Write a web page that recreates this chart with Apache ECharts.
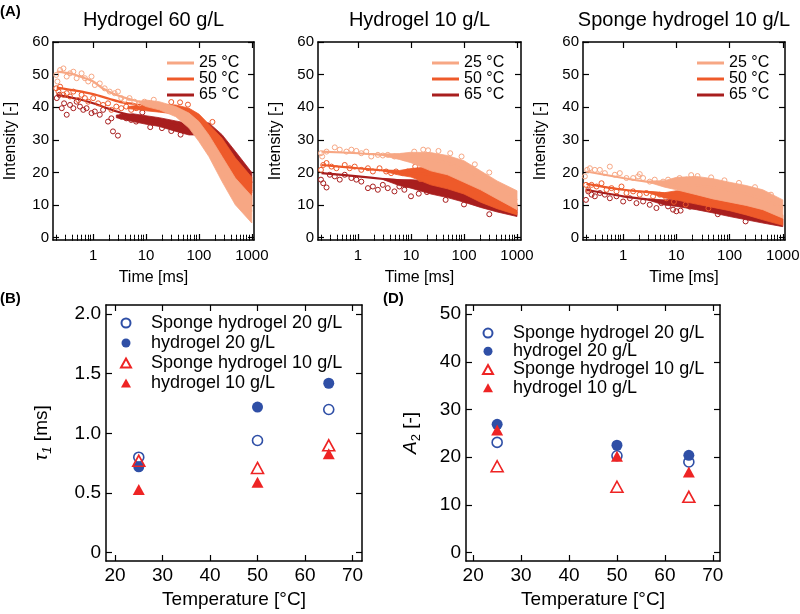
<!DOCTYPE html>
<html><head><meta charset="utf-8">
<script src="https://cdn.jsdelivr.net/npm/echarts@6/dist/echarts.min.js"></script>
<style>html,body{margin:0;padding:0;background:#fff}#c{width:800px;height:614px}</style>
</head><body><div id="c"></div>
<script>
// ---------- shared ----------
const temps = ['25 °C', '50 °C', '65 °C'];
const tempColors = ['#F7A784', '#EE5A2A', '#A81E1E'];
const timeTickValues = [1, 10, 100, 1000];
const timeTickLabels = ['1', '10', '100', '1000'];
const timeMinorTicks = [0.2,0.3,0.4,0.5,0.6,0.7,0.8,0.9,2,3,4,5,6,7,8,9,20,30,40,50,60,70,80,90,200,300,400,500,600,700,800,900];
const intensityTicks = [0, 10, 20, 30, 40, 50, 60];

// ---------- Hydrogel 60 g/L ----------
const h60Fit25 = [[0.205,50.9],[0.4,50.2],[0.7,48.9],[1,47.9],[1.5,45.8],[2.7,43.8],[5.6,42.2],[10,41.2],[17.8,40.5],[36.5,38.7],[64.9,35.9],[100,32.6],[154,28.3],[274,21.1],[487,14.2],[1000,8.0]];
const h60Fit50 = [[0.205,46.0],[0.5,45.0],[1,44.0],[2,42.6],[3.5,41.5],[6,41.0],[10,40.3],[17.8,39.8],[36.5,39.3],[64.9,37.9],[100,35.6],[154,32.4],[274,26.9],[487,20.3],[1000,14.2]];
const h60Fit65 = [[0.205,43.8],[0.5,42.6],[1,41.2],[2,39.5],[3.5,38.2],[6,37.3],[10,36.4],[17.8,35.6],[36.5,34.4],[64.9,33.4],[100,33.4],[154,33.0],[274,29.5],[487,24.2],[1000,16.8]];
const h60Pts25 = [[0.20,49.9],[0.211,47.9],[0.237,51.4],[0.274,51.9],[0.316,49.4],[0.365,50.4],[0.422,50.9],[0.487,48.9],[0.604,50.4],[0.698,48.9],[0.806,47.9],[0.931,49.4],[1.075,46.8],[1.334,47.3],[1.65,45.8],[2.05,44.8],[2.55,44.3],[2.94,44.8],[3.4,42.8],[3.92,42.2],[4.87,42.8],[6.04,41.7],[7.5,41.2],[9.31,41.7],[11.5,41.2],[14,42.3]];
const h60Pts50 = [[0.20,45.8],[0.221,44.8],[0.237,46.3],[0.274,43.8],[0.316,44.3],[0.365,43.3],[0.422,44.8],[0.523,42.2],[0.604,43.8],[0.698,42.8],[0.806,41.7],[1,42.8],[1.24,41.2],[1.54,40.7],[1.91,41.2],[2.21,39.2],[2.74,40.2],[3.4,39.7],[4.22,40.2],[5.23,39.2],[6.49,39.7],[30,41.6],[44,41.5],[62,40.8],[180,35.5]];
const h60Pts65 = [[0.205,42.8],[0.23,43.8],[0.255,39.7],[0.282,41.2],[0.316,37.7],[0.365,40.7],[0.422,39.7],[0.487,41.7],[0.562,40.2],[0.65,39.2],[0.75,39.7],[0.931,38.2],[1.075,38.7],[1.334,37.7],[1.54,39.2],[1.91,35.6],[2.21,36.6],[2.37,32.6],[2.94,31.3],[3.4,37.1],[4.22,36.6],[5.23,36.1],[6.49,35.6],[8.5,38.4],[12,33.9],[20,33.6],[30,32.7],[45,31.6]];
const h60BandT25 = [7.5, 10, 17.8, 36.5, 64.9, 100, 154, 274, 487, 1000];
const h60BandLo25 = [41.2, 40.2, 39.2, 37.1, 33.6, 29.5, 24.9, 17.2, 10.1, 4.5];
const h60BandHi25 = [41.8, 42.2, 41.7, 40.2, 38.2, 35.6, 31.5, 24.9, 18.3, 12.7];
const h60BandT50 = [4.53, 10, 17.8, 36.5, 64.9, 100, 154, 274, 487, 1000];
const h60BandLo50 = [39.6, 38.9, 38.5, 37.9, 36.1, 33.4, 30.0, 23.2, 15.7, 9.6];
const h60BandHi50 = [40.2, 40.9, 40.9, 40.7, 39.7, 37.9, 34.8, 30.5, 24.5, 18.5];
const h60BandT65 = [2.74, 5.62, 10, 17.8, 36.5, 64.9, 100, 154, 274, 487, 1000];
const h60BandLo65 = [36.8, 35.6, 34.8, 34.1, 32.6, 31.5, 31.5, 31.0, 27.0, 21.5, 13.7];
const h60BandHi65 = [37.6, 38.0, 37.4, 36.8, 35.8, 35.0, 35.3, 35.2, 31.6, 26.5, 20.0];

// ---------- Hydrogel 10 g/L ----------
const h10Fit25 = [[0.205,26.4],[1,25.9],[3,25.4],[10,24.9],[23.7,23.9],[48.7,22.9],[100,20.8],[205,18.3],[422,15.7],[1000,11.5]];
const h10Fit50 = [[0.205,22.3],[1,21.3],[3,20.6],[10,19.8],[23.7,19.3],[48.7,18.3],[100,16.2],[205,13.5],[422,11.0],[1000,8.5]];
const h10Fit65 = [[0.205,19.8],[1,18.8],[3,18.0],[10,17.2],[23.7,16.2],[48.7,15.0],[100,13.5],[205,11.5],[422,9.5],[1000,7.5]];
const h10Pts25 = [[0.20,25.9],[0.211,24.9],[0.255,26.4],[0.365,27.7],[0.453,27.0],[0.604,26.4],[0.75,27.0],[0.931,26.6],[1.155,25.9],[1.43,26.4],[1.78,24.9],[2.37,25.4],[2.94,25.2],[3.65,25.4],[4.87,24.9],[6.49,24.9],[7.5,24.4],[10,24.9],[11.5,26.4],[13.3,24.9],[17,27.0],[21,26.8],[33,26.6],[55,25.9],[90,24.9],[160,22.5],[300,20.0]];
const h10Pts50 = [[0.20,20.8],[0.221,22.3],[0.255,22.9],[0.316,21.8],[0.392,21.3],[0.562,22.3],[0.698,21.3],[0.866,21.8],[1.155,20.8],[1.54,21.3],[1.91,20.3],[2.55,21.3],[3.4,20.3],[4.22,19.8],[5.23,20.3],[6.98,19.8],[8.66,20.3],[12,21.8],[30,22.5],[15,18.0]];
const h10Pts65 = [[0.20,17.8],[0.221,16.7],[0.255,15.4],[0.294,19.3],[0.365,18.8],[0.453,17.8],[0.562,19.3],[0.75,18.3],[0.931,17.8],[1.155,17.2],[1.54,15.2],[1.91,15.7],[2.37,14.7],[2.94,16.2],[3.65,15.2],[4.87,14.2],[6.04,15.7],[7.5,14.7],[8.06,16.2],[10,12.7],[14,13.5],[20,14.0],[45,11.6],[100,10.2],[300,7.2]];
const h10BandT = [3, 6, 10, 23.7, 48.7, 100, 205, 422, 1000];
const h10BandLo25 = [25.1, 24.0, 23.0, 20.5, 19.3, 17.0, 14.7, 11.9, 8.6];
const h10BandHi25 = [25.7, 25.8, 26.2, 26.1, 25.2, 23.6, 20.5, 17.4, 14.4];
const h10BandLo50 = [20.4, 19.2, 18.6, 16.2, 15.0, 13.4, 10.9, 8.9, 7.0];
const h10BandHi50 = [20.8, 20.6, 21.2, 21.8, 21.0, 19.1, 16.2, 13.2, 10.6];
const h10BandLo65 = [17.8, 16.0, 15.2, 13.4, 12.3, 10.9, 9.3, 7.9, 6.5];
const h10BandHi65 = [18.2, 17.8, 17.8, 17.4, 16.4, 15.0, 13.2, 11.1, 9.3];

// ---------- Sponge hydrogel 10 g/L ----------
const s10Fit25 = [[0.205,20.3],[1,18.3],[2.74,17.2],[10,16.2],[23.7,16.0],[48.7,15.4],[100,14.5],[205,13.3],[422,11.8],[1000,9.0]];
const s10Fit50 = [[0.205,16.5],[1,14.7],[3,14.0],[10,13.2],[23.7,12.5],[48.7,11.4],[100,10.2],[205,8.7],[422,7.1],[1000,5.3]];
const s10Fit65 = [[0.205,14.7],[1,12.7],[3,11.7],[10,10.6],[23.7,9.9],[48.7,9.1],[100,8.1],[205,7.0],[422,6.0],[1000,4.5]];
const s10Pts25 = [[0.191,18.8],[0.211,20.8],[0.237,21.3],[0.294,20.8],[0.365,20.8],[0.453,19.8],[0.562,21.8],[0.698,19.3],[0.866,19.8],[1.155,18.3],[1.54,18.3],[1.91,18.8],[2.05,19.5],[2.37,18.3],[3.16,17.2],[3.92,17.8],[5.62,17.2],[6.98,17.8],[8.66,17.2],[11.5,18.3],[15.4,17.8],[19,19.2],[25,18.9],[45,18.5],[80,17.6],[150,16.8],[300,15.5],[600,13.2]];
const s10Pts50 = [[0.20,16.2],[0.221,14.7],[0.255,16.2],[0.316,15.7],[0.392,16.7],[0.487,14.7],[0.604,15.2],[0.75,14.2],[0.931,15.7],[1.155,13.7],[1.54,14.2],[2.05,13.2],[2.74,13.7],[3.65,12.7],[4.87,13.2],[6.49,12.1],[9,11.0],[15,10.2],[40,9.0]];
const s10Pts65 = [[0.20,11.6],[0.221,14.2],[0.255,13.2],[0.294,12.7],[0.365,13.7],[0.453,13.2],[0.562,12.1],[0.75,12.7],[1,11.1],[1.334,12.1],[1.78,10.6],[2.37,11.1],[3.16,10.1],[4.22,9.1],[5.23,10.6],[6.98,9.6],[8.66,8.6],[10,8.1],[12,8.3],[18,9.5],[60,7.2],[200,5.0]];
const s10BandT = [3, 6, 10, 23.7, 48.7, 100, 205, 422, 1000];
const s10BandLo25 = [17.0, 15.5, 14.7, 13.2, 11.9, 10.9, 9.9, 8.6, 6.0];
const s10BandHi25 = [17.4, 17.5, 18.5, 18.8, 18.1, 17.0, 16.0, 14.7, 11.6];
const s10BandLo50 = [13.8, 12.2, 11.6, 10.3, 9.3, 8.3, 7.0, 5.5, 3.8];
const s10BandHi50 = [14.2, 13.8, 14.4, 14.4, 13.2, 12.1, 10.6, 9.1, 7.0];
const s10BandLo65 = [11.5, 10.0, 9.6, 8.6, 7.6, 6.5, 5.5, 4.5, 3.4];
const s10BandHi65 = [11.9, 11.6, 11.9, 11.3, 10.6, 9.6, 8.6, 7.6, 5.8];

// ---------- (B) and (D) ----------
const temperature = [25, 50, 65];
const tempTicks = [20, 30, 40, 50, 60, 70];
const tauTickValues = [0, 0.5, 1, 1.5, 2];
const tauTickLabels = ['0', '0.5', '1.0', '1.5', '2.0'];
const a2Ticks = [0, 10, 20, 30, 40, 50];
const sampleNames = ['Sponge hydrogel 20 g/L', 'hydrogel 20 g/L', 'Sponge hydrogel 10 g/L', 'hydrogel 10 g/L'];
const tauSponge20 = [0.80, 0.94, 1.20];
const tauHydro20 = [0.72, 1.22, 1.42];
const tauSponge10 = [0.77, 0.71, 0.90];
const tauHydro10 = [0.53, 0.59, 0.83];
const a2Sponge20 = [23.1, 20.3, 19.0];
const a2Hydro20 = [26.9, 22.5, 20.4];
const a2Sponge10 = [18.1, 13.8, 11.7];
const a2Hydro10 = [25.7, 20.2, 16.9];

// ---------- build ----------
const FONT = 'Liberation Sans';
const BLUE = '#2F4FA6', RED = '#EE2424';
const frameLine = {show: true, onZero: false, lineStyle: {color: '#000', width: 1.5}};

const topGrids = [
  {left: 53, top: 42, width: 201, height: 198, xmin: 0.174, xmax: 1100, legendLeft: 167},
  {left: 318, top: 42, width: 203, height: 198, xmin: 0.176, xmax: 1190, legendLeft: 432},
  {left: 583, top: 42, width: 202, height: 198, xmin: 0.176, xmax: 1100, legendLeft: 697}
];
const panels = [
  {fits: [h60Fit25, h60Fit50, h60Fit65], pts: [h60Pts25, h60Pts50, h60Pts65],
   bandT: [h60BandT25, h60BandT50, h60BandT65], lo: [h60BandLo25, h60BandLo50, h60BandLo65], hi: [h60BandHi25, h60BandHi50, h60BandHi65]},
  {fits: [h10Fit25, h10Fit50, h10Fit65], pts: [h10Pts25, h10Pts50, h10Pts65],
   bandT: [h10BandT, h10BandT, h10BandT], lo: [h10BandLo25, h10BandLo50, h10BandLo65], hi: [h10BandHi25, h10BandHi50, h10BandHi65]},
  {fits: [s10Fit25, s10Fit50, s10Fit65], pts: [s10Pts25, s10Pts50, s10Pts65],
   bandT: [s10BandT, s10BandT, s10BandT], lo: [s10BandLo25, s10BandLo50, s10BandLo65], hi: [s10BandHi25, s10BandHi50, s10BandHi65]}
];

const grid = [], xAxis = [], yAxis = [], series = [], legend = [];

function timeLabel(v) {
  const i = timeTickValues.findIndex(t => Math.abs(t - v) < 1e-6 * t);
  return i >= 0 ? timeTickLabels[i] : '';
}

// band polygon between lo and hi, drawn once per series through the axes' coord()
function bandRenderer(color) {
  return function (params, api) {
    if (params.dataIndexInside !== 0) return null;
    const n = params.dataInsideLength;
    const upper = [], lower = [];
    for (let j = 0; j < n; j++) {
      const t = api.value(0, j);
      upper.push(api.coord([t, api.value(2, j)]));
      lower.push(api.coord([t, api.value(1, j)]));
    }
    return {type: 'polygon', shape: {points: upper.concat(lower.reverse())},
      style: {fill: color, stroke: color, lineWidth: 0.8}};
  };
}

topGrids.forEach((g, gi) => {
  grid.push({left: g.left, top: g.top, width: g.width, height: g.height, containLabel: false, outerBoundsMode: 'none'});
  const base = {type: 'log', gridIndex: gi, min: g.xmin, max: g.xmax, splitLine: {show: false}};
  xAxis.push(Object.assign({}, base, {position: 'bottom', axisLine: frameLine,
    axisTick: {show: true, inside: true, length: 6, customValues: timeTickValues, lineStyle: {color: '#000', width: 1.2}},
    axisLabel: {show: true, customValues: timeTickValues, formatter: timeLabel, margin: 8, fontSize: 15, fontFamily: FONT, color: '#000'},
    name: 'Time [ms]', nameLocation: 'middle', nameGap: 30, nameTextStyle: {fontSize: 16, fontFamily: FONT, color: '#000'}}));
  xAxis.push(Object.assign({}, base, {position: 'bottom', axisLine: {show: false},
    axisTick: {show: true, inside: true, length: 3, customValues: timeMinorTicks, lineStyle: {color: '#000', width: 1}},
    axisLabel: {show: false}}));
  xAxis.push(Object.assign({}, base, {position: 'top', axisLine: frameLine,
    axisTick: {show: true, inside: true, length: 6, customValues: timeTickValues, lineStyle: {color: '#000', width: 1.2}},
    axisLabel: {show: false}}));
  xAxis.push(Object.assign({}, base, {position: 'top', axisLine: {show: false},
    axisTick: {show: true, inside: true, length: 3, customValues: timeMinorTicks, lineStyle: {color: '#000', width: 1}},
    axisLabel: {show: false}}));
  const ybase = {type: 'value', gridIndex: gi, min: -0.7, max: 60, splitLine: {show: false}, axisLine: frameLine};
  yAxis.push(Object.assign({}, ybase, {position: 'left',
    axisTick: {show: true, inside: true, length: 6, customValues: intensityTicks, lineStyle: {color: '#000', width: 1.2}},
    axisLabel: {show: true, customValues: intensityTicks, margin: 4, fontSize: 15, fontFamily: FONT, color: '#000'},
    name: 'Intensity [-]', nameLocation: 'middle', nameGap: 34, nameRotate: 90, nameTextStyle: {fontSize: 16, fontFamily: FONT, color: '#000'}}));
  yAxis.push(Object.assign({}, ybase, {position: 'right',
    axisTick: {show: true, inside: true, length: 6, customValues: intensityTicks, lineStyle: {color: '#000', width: 1.2}},
    axisLabel: {show: false}}));

  const p = panels[gi];
  const xi = gi * 4, yi = gi * 2;
  [2, 1, 0].forEach((k, m) => {
    const c = tempColors[k];
    const t = p.bandT[k], lo = p.lo[k], hi = p.hi[k];
    const z0 = 2 + m * 3;
    series.push({type: 'custom', xAxisIndex: xi, yAxisIndex: yi, silent: true, clip: true, z: z0,
      encode: {x: 0, y: [1, 2]}, renderItem: bandRenderer(c),
      data: t.map((v, i) => [v, lo[i], hi[i]])});
    series.push({type: 'scatter', xAxisIndex: xi, yAxisIndex: yi, symbol: 'circle', symbolSize: 5, silent: true, z: z0 + 1,
      itemStyle: {color: 'rgba(255,255,255,0)', borderColor: c, borderWidth: 1, opacity: 1}, data: p.pts[k]});
    series.push({type: 'line', name: temps[k], xAxisIndex: xi, yAxisIndex: yi, symbol: 'none', smooth: 0.3, z: z0 + 2,
      lineStyle: {color: c, width: 2.2}, itemStyle: {color: c}, data: p.fits[k]});
  });
  legend.push({orient: 'vertical', left: g.legendLeft, top: 55, padding: 0, itemGap: 0, itemWidth: 27, itemHeight: 3,
    icon: 'rect', selectedMode: false, data: temps, z: 20,
    textStyle: {fontSize: 16, lineHeight: 16, fontFamily: FONT, color: '#000'}});
});

// bottom panels
const botGrids = [
  {left: 106, top: 305, width: 256, height: 256, xmin: 18.1, xmax: 72.0, ymin: -0.07, ymax: 2.076, ticks: tauTickValues,
   name: '{i|τ}{si|1}{n| [ms]}', nameGap: 52, legendLeft: 120, legendTop: 313, legendLH: 20,
   data: [tauSponge20, tauHydro20, tauSponge10, tauHydro10]},
  {left: 466, top: 305, width: 254, height: 256, xmin: 18.5, xmax: 71.5, ymin: -1.76, ymax: 51.9, ticks: a2Ticks,
   name: '{i|A}{s|2}{n| [-]}', nameGap: 43, legendLeft: 482, legendTop: 324, legendLH: 18.2,
   data: [a2Sponge20, a2Hydro20, a2Sponge10, a2Hydro10]}
];
const markerStyles = [
  {symbol: 'circle', symbolSize: 10, itemStyle: {color: 'rgba(255,255,255,0)', borderColor: BLUE, borderWidth: 1.6, opacity: 1}},
  {symbol: 'circle', symbolSize: 11, itemStyle: {color: BLUE, opacity: 1}},
  {symbol: 'triangle', symbolSize: [12, 11], itemStyle: {color: 'rgba(255,255,255,0)', borderColor: RED, borderWidth: 1.6, opacity: 1}},
  {symbol: 'triangle', symbolSize: [12, 11], itemStyle: {color: RED, opacity: 1}}
];
const nameRich = {
  i: {fontStyle: 'italic', fontSize: 19, fontFamily: FONT, lineHeight: 24, color: '#000'},
  si: {fontStyle: 'italic', fontSize: 13, fontFamily: FONT, lineHeight: 13, verticalAlign: 'bottom', color: '#000'},
  s: {fontSize: 13, fontFamily: FONT, lineHeight: 13, verticalAlign: 'bottom', color: '#000'},
  n: {fontSize: 19, fontFamily: FONT, lineHeight: 24, color: '#000'}
};
botGrids.forEach((g, bi) => {
  const gi = 3 + bi;
  grid.push({left: g.left, top: g.top, width: g.width, height: g.height, containLabel: false, outerBoundsMode: 'none'});
  const xbase = {type: 'value', gridIndex: gi, min: g.xmin, max: g.xmax, splitLine: {show: false}, axisLine: frameLine};
  xAxis.push(Object.assign({}, xbase, {position: 'bottom',
    axisTick: {show: true, inside: true, length: 6, customValues: tempTicks, lineStyle: {color: '#000', width: 1.2}},
    axisLabel: {show: true, customValues: tempTicks, margin: 5, fontSize: 19, fontFamily: FONT, color: '#000'},
    name: 'Temperature [°C]', nameLocation: 'middle', nameGap: 29, nameTextStyle: {fontSize: 19, fontFamily: FONT, color: '#000'}}));
  xAxis.push(Object.assign({}, xbase, {position: 'top',
    axisTick: {show: true, inside: true, length: 6, customValues: tempTicks, lineStyle: {color: '#000', width: 1.2}},
    axisLabel: {show: false}}));
  const ybase = {type: 'value', gridIndex: gi, min: g.ymin, max: g.ymax, splitLine: {show: false}, axisLine: frameLine};
  yAxis.push(Object.assign({}, ybase, {position: 'left',
    axisTick: {show: true, inside: true, length: 6, customValues: g.ticks, lineStyle: {color: '#000', width: 1.2}},
    axisLabel: {show: true, customValues: g.ticks, margin: 5, fontSize: 19, fontFamily: FONT, color: '#000',
      formatter: v => {
        if (bi === 0) { const i = tauTickValues.findIndex(t => Math.abs(t - v) < 1e-9); return i >= 0 ? tauTickLabels[i] : ''; }
        return String(v);
      }},
    name: g.name, nameLocation: 'middle', nameGap: g.nameGap, nameRotate: 90,
    nameTextStyle: {fontSize: 19, fontFamily: FONT, color: '#000', rich: nameRich}}));
  yAxis.push(Object.assign({}, ybase, {position: 'right',
    axisTick: {show: true, inside: true, length: 6, customValues: g.ticks, lineStyle: {color: '#000', width: 1.2}},
    axisLabel: {show: false}}));
  const xi = 12 + bi * 2, yi = 6 + bi * 2;
  g.data.forEach((vals, k) => {
    series.push(Object.assign({type: 'scatter', name: sampleNames[k], xAxisIndex: xi, yAxisIndex: yi, z: 3 + k,
      data: temperature.map((t, i) => [t, vals[i]])}, markerStyles[k]));
  });
  legend.push({orient: 'vertical', left: g.legendLeft, top: g.legendTop, padding: 0, itemGap: 0, itemWidth: 10, itemHeight: 9,
    selectedMode: false, data: sampleNames,
    textStyle: {fontSize: 18, lineHeight: g.legendLH, fontFamily: FONT, color: '#000', padding: [0, 0, 0, 15]}});
});

const txt = (s, x, y, size, weight, align) => ({type: 'text', x: x, y: y, silent: true,
  style: {text: s, fontSize: size, fontWeight: weight, fontFamily: FONT, fill: '#000', align: align, verticalAlign: 'middle'}});

const chart = echarts.init(document.getElementById('c'), null, {renderer: 'canvas'});
chart.setOption({
  animation: false,
  backgroundColor: '#fff',
  grid: grid, xAxis: xAxis, yAxis: yAxis, series: series, legend: legend,
  graphic: [
    txt('(A)', 0, 12, 15, 'bold', 'left'),
    txt('(B)', 0, 299, 15, 'bold', 'left'),
    txt('(D)', 383, 299, 15, 'bold', 'left'),
    txt('Hydrogel 60 g/L', 153.5, 20, 20, 'normal', 'center'),
    txt('Hydrogel 10 g/L', 419.5, 20, 20, 'normal', 'center'),
    txt('Sponge hydrogel 10 g/L', 684, 20, 20, 'normal', 'center')
  ]
});
</script></body></html>
